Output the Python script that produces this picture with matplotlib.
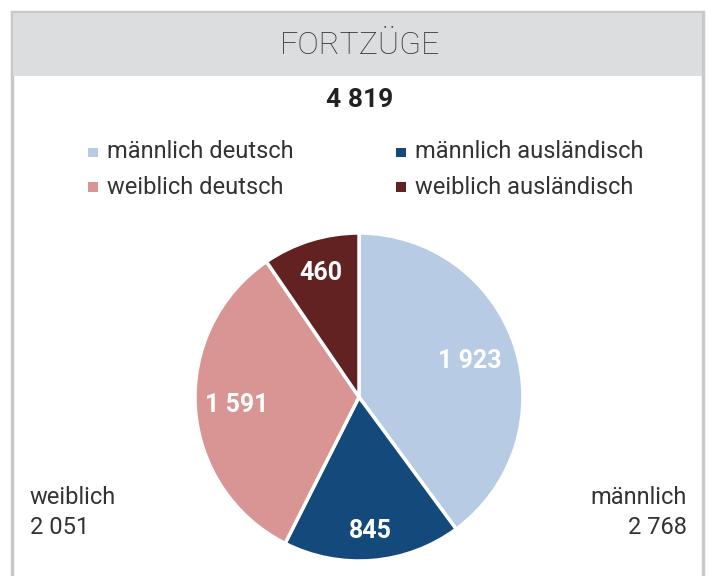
import matplotlib
matplotlib.use('Agg')
import numpy as np
import matplotlib.pyplot as plt
from matplotlib.patches import Rectangle

plt.rcParams['font.family'] = ['Roboto', 'DejaVu Sans']

# data
categories = ['männlich deutsch', 'männlich ausländisch', 'weiblich deutsch', 'weiblich ausländisch']
values = [1923, 845, 1591, 460]
colors = ['#b7cbe5', '#13497b', '#d99594', '#612221']
title = 'FORTZÜGE'
total_label = '4 819'
side_labels = [('weiblich', '2 051'), ('männlich', '2 768')]

W, H = 715, 576
fig = plt.figure(figsize=(W / 100, H / 100), dpi=100)


def fx(x):
    return x / W


def fy(y):
    return 1 - y / H


# frame and title band (behind the pie)
fig.add_artist(Rectangle((fx(12), fy(600)), fx(691), fy(12) - fy(600), transform=fig.transFigure,
                         facecolor='white', edgecolor='#c8c8c8', lw=2.5, zorder=-2))
fig.add_artist(Rectangle((fx(13), fy(76)), fx(689), fy(13) - fy(76), transform=fig.transFigure,
                         facecolor='#dcdddf', edgecolor='none', zorder=-1))
fig.text(fx(360), fy(46), title, ha='center', va='center', fontsize=23,
         fontweight='light', color='#333333')
fig.text(fx(360), fy(100), total_label, ha='center', va='center', fontsize=19,
         fontweight='bold', color='#222222')

# legend, two columns
leg_pos = [(88, 152), (396, 152), (88, 187), (396, 187)]
for (x, y), lab, col in zip(leg_pos, categories, colors):
    fig.add_artist(Rectangle((fx(x), fy(y + 5)), fx(9.5), fy(0) - fy(9.5),
                             transform=fig.transFigure, facecolor=col, edgecolor='none'))
    fig.text(fx(x + 19), fy(y), lab, ha='left', va='center', fontsize=17, color='#333333')

# pie
cx, cy, r = 359, 397, 164
ax = fig.add_axes([fx(cx - r), fy(cy + r), fx(2 * r), fy(cy - r) - fy(cy + r)])
wedges, texts = ax.pie(values, colors=colors, startangle=90, counterclock=False,
                       wedgeprops=dict(edgecolor='white', linewidth=2.5))
label_dist = [0.71, 0.82, 0.75, 0.79]
for w, v, d in zip(wedges, values, label_dist):
    ang = np.deg2rad((w.theta1 + w.theta2) / 2)
    ax.text(d * np.cos(ang), d * np.sin(ang), f'{v:,}'.replace(',', ' '), ha='center', va='center',
            color='white', fontsize=18, fontweight='bold')
ax.set_xlim(-1, 1)
ax.set_ylim(-1, 1)
ax.set_aspect('equal')

# side totals
fig.text(fx(30), fy(498), side_labels[0][0], ha='left', va='center', fontsize=17, color='#333333')
fig.text(fx(30), fy(528), side_labels[0][1], ha='left', va='center', fontsize=17, color='#333333')
fig.text(fx(687), fy(498), side_labels[1][0], ha='right', va='center', fontsize=17, color='#333333')
fig.text(fx(687), fy(528), side_labels[1][1], ha='right', va='center', fontsize=17, color='#333333')

fig.savefig('out.png', dpi=100)
